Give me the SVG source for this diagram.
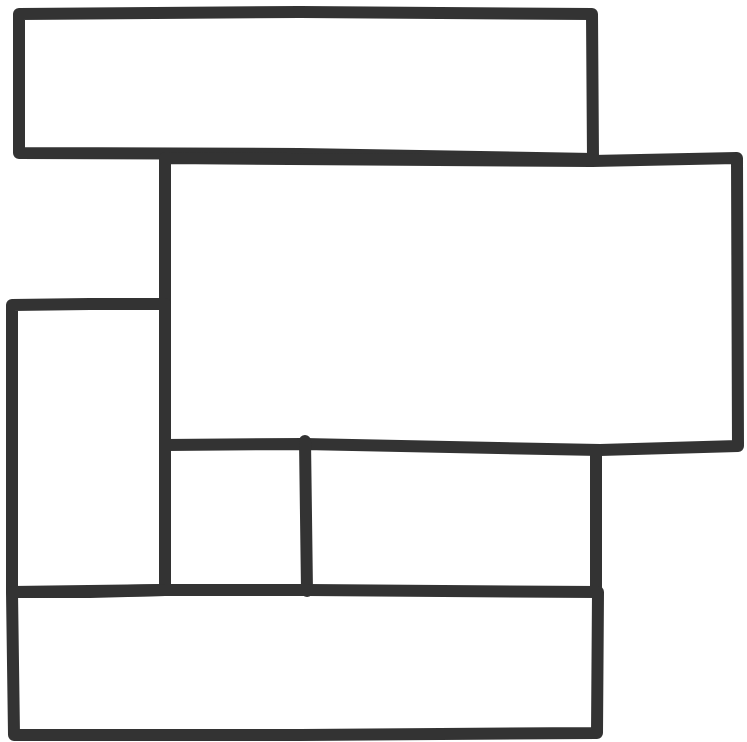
<svg xmlns="http://www.w3.org/2000/svg" width="747" height="742" viewBox="0 0 747 742">
<style>
.l{fill:none;stroke:#333;stroke-width:12;stroke-linecap:round;stroke-linejoin:round}
</style>
<rect width="747" height="742" fill="#fff"/>
<g id="top-box">
<path class="l" d="M19,14 L300,12 L592,14 L593,159 L300,154 L19,153 Z"/>
</g>
<g id="middle-box">
<path class="l" d="M165,158 L592,161 L737,158 L738,446 L600,450 L304,444 L165,445 Z"/>
</g>
<g id="left-box">
<path class="l" d="M12,305 L90,304 L165,304 L165,590 L90,592 L12,592 Z"/>
</g>
<g id="small-box">
<path class="l" d="M305,441 L307,591"/>
</g>
<g id="right-box">
<path class="l" d="M596,450 L596,592"/>
</g>
<g id="bottom-box">
<path class="l" d="M12,592 L165,590 L307,590 L598,592 L597,733 L300,735 L14,735 Z"/>
</g>
</svg>
